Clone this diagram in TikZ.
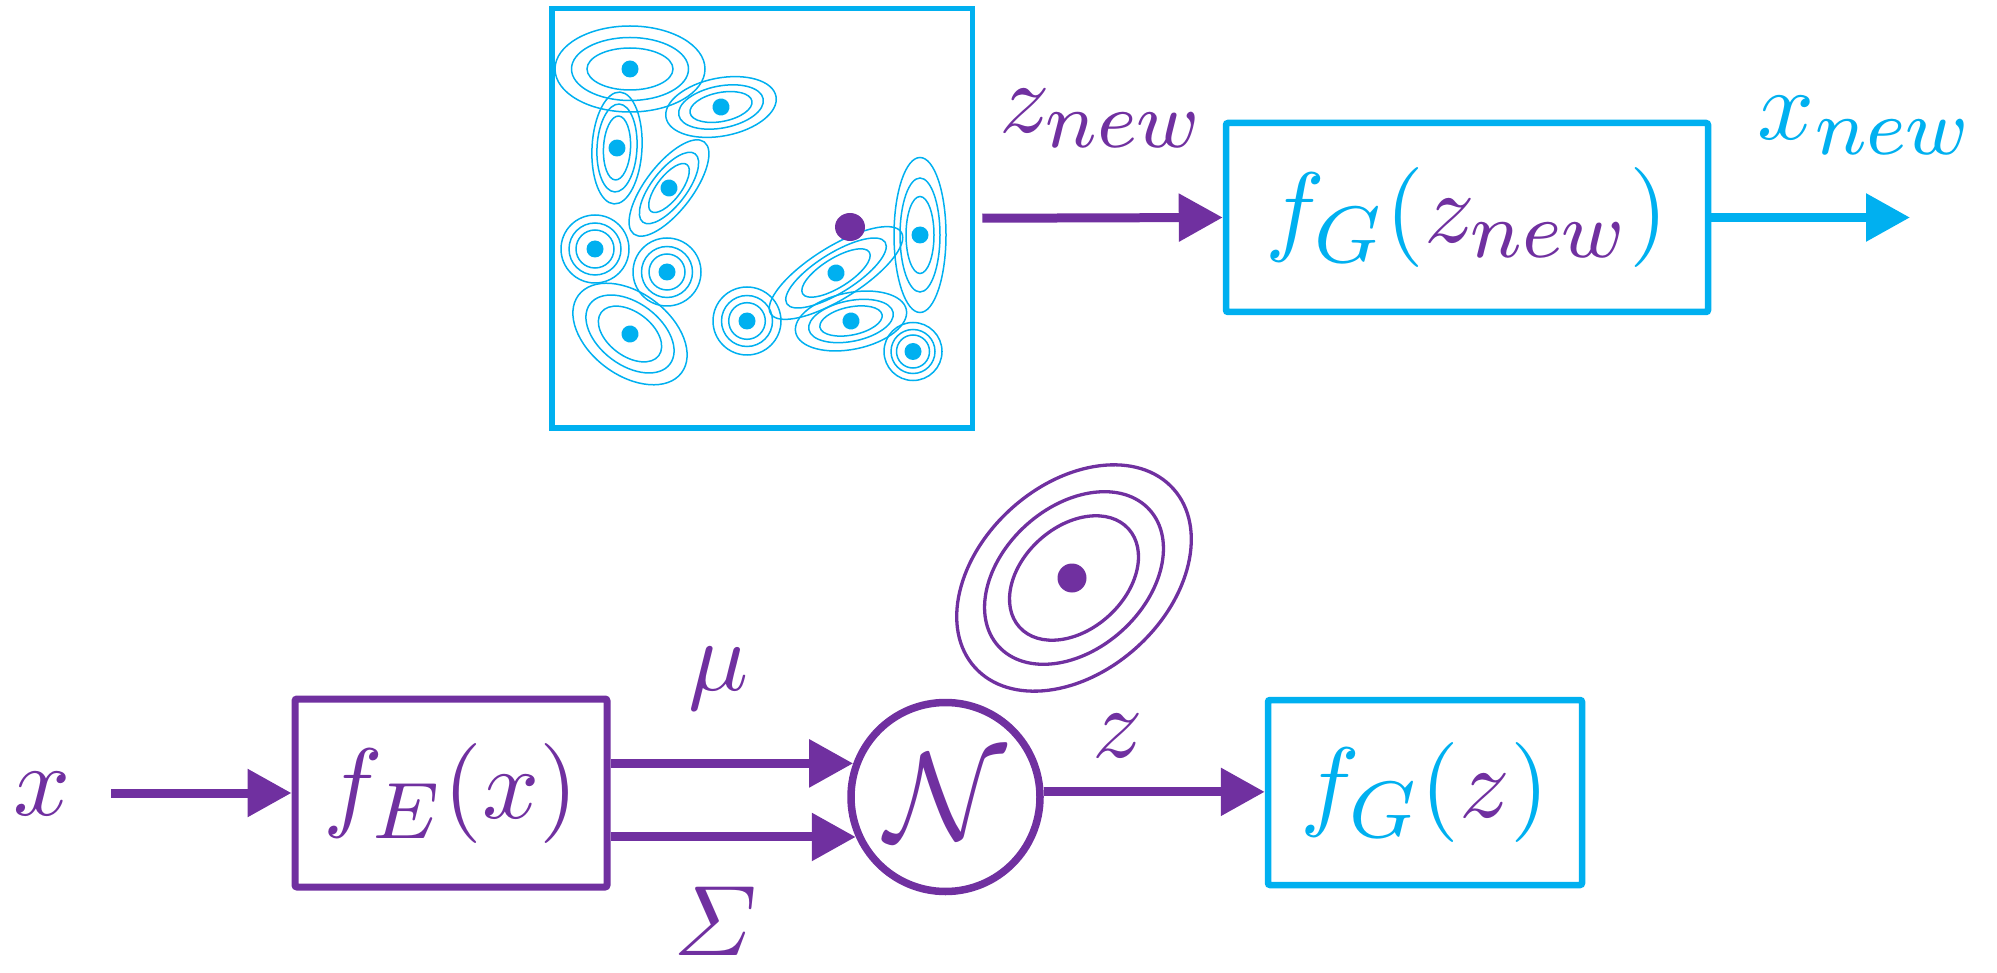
\documentclass[tikz,border=0pt]{standalone}
\usepackage{amsmath}
\usetikzlibrary{arrows.meta}
\DeclareMathSizes{10}{10}{8}{6}
\definecolor{cblue}{HTML}{00B0F0}
\definecolor{cpurp}{HTML}{7030A0}
\newcommand\mtxt[1]{\scalebox{10}{$#1$}}
% center x, center y, angle, a1, b1, a2, b2, a3, b3
\newcommand\gaussring[9]{%
  \begin{scope}[shift={(#1,#2)},rotate=#3]
    \draw[gline] (0,0) ellipse [x radius=#4pt, y radius=#5pt];
    \draw[gline] (0,0) ellipse [x radius=#6pt, y radius=#7pt];
    \draw[gline] (0,0) ellipse [x radius=#8pt, y radius=#9pt];
    \fill[cblue] (0,0) circle (8.5pt);
  \end{scope}}
\begin{document}
\begin{tikzpicture}[x=1pt, y=-1pt,
  every node/.style={inner sep=0pt},
  gline/.style={draw=cblue, line width=1.5pt},
  pline/.style={draw=cpurp, line width=3.3pt},
  boxp/.style={draw=cpurp, text=cpurp, line width=7pt, minimum width=312pt, minimum height=188pt, rounded corners=2pt},
  boxb/.style={draw=cblue, text=cblue, line width=6.5pt, rounded corners=2pt},
  arp/.style={draw=cpurp, line width=9pt, -{Triangle[length=44pt,width=46pt]}},
  arb/.style={draw=cblue, line width=9pt, -{Triangle[length=44pt,width=46pt]}},
  lbl/.style={anchor=base, text=cpurp}]
\useasboundingbox (0,0) rectangle (1997,973);

% ---- latent space box with mixture of Gaussians
\node[draw=cblue, line width=5.5pt, minimum width=420.5pt, minimum height=419.5pt] (latent) at (762.25,218.25) {};
\gaussring{630}{69}{0}{75}{43}{58.5}{31.5}{43}{21}
\gaussring{721}{107}{11}{56}{29}{43}{21}{31.5}{14.5}
\gaussring{617}{148}{-3}{25}{56}{20}{44}{13.5}{32}
\gaussring{669}{188}{52.5}{58}{23.5}{43}{17.5}{29.5}{12}
\gaussring{595}{249}{0}{34}{34}{26}{26}{19}{19}
\gaussring{667}{272}{0}{34}{34}{25.5}{25.5}{18}{18}
\gaussring{630}{334}{-37}{64.5}{41}{50}{31}{36}{22}
\gaussring{747}{321}{0}{34}{34}{25.5}{25.5}{18.3}{18.3}
\gaussring{836}{273}{32}{77}{26}{58}{19.7}{39.3}{14.5}
\gaussring{920}{235}{0}{26}{77.5}{20}{57}{14}{38.5}
\gaussring{851}{321}{11.6}{56.5}{28.3}{43}{20.3}{31.7}{14}
\gaussring{913}{351.5}{0}{29}{29}{22}{22}{16.5}{16.5}
\fill[cpurp] (850,227) ellipse [x radius=15pt, y radius=14pt];

% ---- generator on new sample
\node[boxb, minimum width=482pt, minimum height=189pt] (gnew) at (1467,217.5) {\mtxt{f_G(\textcolor{cpurp}{z_{new}})}};
\node[lbl] (znewlbl) at (1102,133) {\mtxt{z_{new}}};
\node[lbl, text=cblue] (xnewlbl) at (1866,140) {\mtxt{x_{new}}};
\coordinate (xnewtip) at (1910,217.5);
\draw[arp, shorten <=7pt] (latent.east) -- (gnew.west);
\draw[arb] (gnew.east) -- (xnewtip);

% ---- encoder / sampling / decoder
\node[boxp] (enc) at (451,793) {\mtxt{f_E(x)}};
\node[circle, draw=cpurp, text=cpurp, line width=7.5pt, minimum size=189pt] (N) at (945.5,797) {\scalebox{12.5}{$\mathcal{N}$}};
\node[boxb, minimum width=314pt, minimum height=185pt] (gz) at (1425,792.5) {\mtxt{f_G(\textcolor{cpurp}{z})}};

\node[lbl] (xlbl) at (42,815) {\mtxt{x}};
\coordinate (xstart) at (111,793);
\draw[arp] (xstart) -- (enc.west);

\node[lbl] (mulbl) at (719,690) {\mtxt{\mu}};
\node[lbl] (siglbl) at (715,955) {\mtxt{\varSigma}};
\draw[arp] (N.160 -| enc.east) -- (N.160);
\draw[arp] (N.204 -| enc.east) -- (N.204);

\node[lbl] (zlbl) at (1118,757) {\mtxt{z}};
\draw[arp] (N.3) -- (N.3 -| gz.west);

% ---- Gaussian illustration
\begin{scope}[shift={(1074,578)}, rotate=42]
  \draw[pline] (0,0) ellipse [x radius=133.5pt, y radius=93.5pt];
  \draw[pline] (0,0) ellipse [x radius=101.8pt, y radius=71.3pt];
  \draw[pline] (0,0) ellipse [x radius=73.4pt, y radius=51.4pt];
\end{scope}
\fill[cpurp] (1072,578) circle (14.5pt);
\end{tikzpicture}
\end{document}
